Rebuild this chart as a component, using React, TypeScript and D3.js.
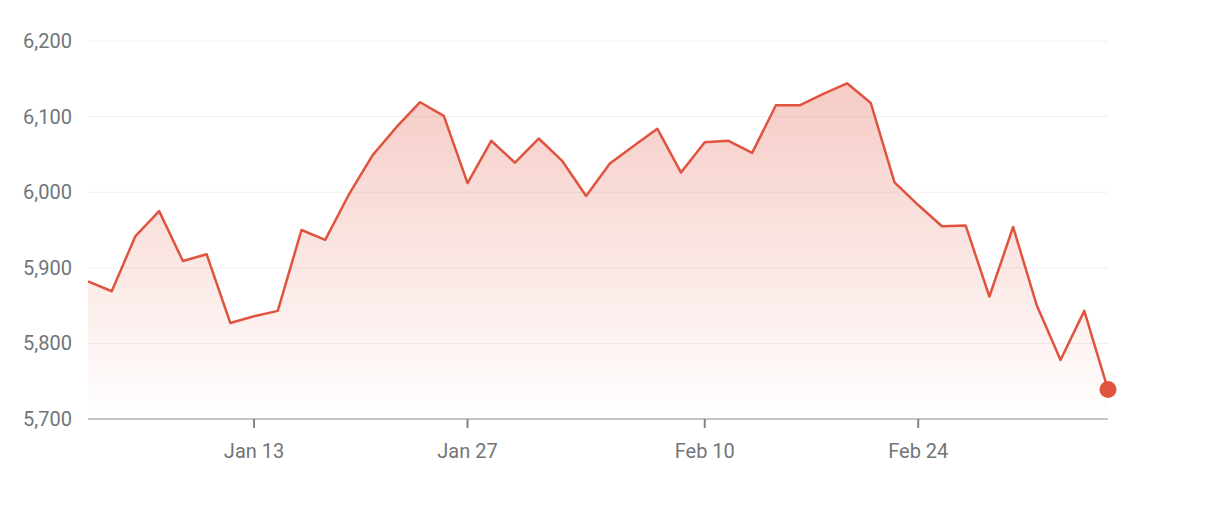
import React, { useEffect, useRef } from 'react';
import * as d3 from 'd3';

const dates = [
  'Dec 31', 'Jan 2', 'Jan 3', 'Jan 6', 'Jan 7', 'Jan 8', 'Jan 10', 'Jan 13', 'Jan 14', 'Jan 15',
  'Jan 16', 'Jan 17', 'Jan 21', 'Jan 22', 'Jan 23', 'Jan 24', 'Jan 27', 'Jan 28', 'Jan 29', 'Jan 30',
  'Jan 31', 'Feb 3', 'Feb 4', 'Feb 5', 'Feb 6', 'Feb 7', 'Feb 10', 'Feb 11', 'Feb 12', 'Feb 13',
  'Feb 14', 'Feb 18', 'Feb 19', 'Feb 20', 'Feb 21', 'Feb 24', 'Feb 25', 'Feb 26', 'Feb 27', 'Feb 28',
  'Mar 3', 'Mar 4', 'Mar 5', 'Mar 6',
];

const closes = [
  5882, 5869, 5942, 5975, 5909, 5918, 5827, 5836, 5843, 5950,
  5937, 5997, 6049, 6086, 6119, 6101, 6012, 6068, 6039, 6071,
  6041, 5995, 6038, 6061, 6084, 6026, 6066, 6068, 6052, 6115,
  6115, 6130, 6144, 6118, 6013, 5983, 5955, 5956, 5862, 5954,
  5850, 5778, 5843, 5739,
];

const yTicks = [5700, 5800, 5900, 6000, 6100, 6200];
const xTickLabels = ['Jan 13', 'Jan 27', 'Feb 10', 'Feb 24'];

const App: React.FC = () => {
  const svgRef = useRef<SVGSVGElement | null>(null);

  useEffect(() => {
    if (!svgRef.current) return;
    const W = 1218;
    const H = 512;
    const margin = { top: 41, right: 110, bottom: 93, left: 88 };
    const width = W - margin.left - margin.right;
    const height = H - margin.top - margin.bottom;

    d3.select(svgRef.current).selectAll('*').remove();
    const root = d3.select(svgRef.current).attr('width', W).attr('height', H);

    const svg = root.append('g').attr('transform', `translate(${margin.left},${margin.top})`);

    const x = d3.scalePoint<string>().domain(dates).range([0, width]);
    const y = d3.scaleLinear().domain([5700, 6200]).range([height, 0]);

    // gradient from the highest close down to the baseline
    const grad = root.append('defs').append('linearGradient')
      .attr('id', 'areaFill')
      .attr('gradientUnits', 'userSpaceOnUse')
      .attr('x1', 0).attr('x2', 0)
      .attr('y1', y(d3.max(closes) as number)).attr('y2', height);
    grad.append('stop').attr('offset', '0%').attr('stop-color', '#e0533f').attr('stop-opacity', 0.3);
    grad.append('stop').attr('offset', '100%').attr('stop-color', '#e0533f').attr('stop-opacity', 0);

    // grid
    svg.append('g')
      .selectAll('line')
      .data(yTicks.slice(1))
      .enter()
      .append('line')
      .attr('x1', 0)
      .attr('x2', width)
      .attr('y1', d => y(d))
      .attr('y2', d => y(d))
      .attr('stroke', '#f0f0f0')
      .attr('stroke-width', 1);

    // y labels
    svg.append('g')
      .selectAll('text')
      .data(yTicks)
      .enter()
      .append('text')
      .attr('x', -16)
      .attr('y', d => y(d))
      .attr('dy', '0.35em')
      .attr('text-anchor', 'end')
      .attr('font-family', 'Roboto, sans-serif')
      .attr('font-size', 20)
      .attr('fill', '#70757a')
      .text(d => d3.format(',')(d));

    // area
    const area = d3.area<number>()
      .x((_, i) => x(dates[i]) as number)
      .y0(height)
      .y1(d => y(d));
    svg.append('path')
      .datum(closes)
      .attr('d', area)
      .attr('fill', 'url(#areaFill)');

    // x axis
    const axis = svg.append('g').attr('transform', `translate(0,${height})`);
    axis.append('line')
      .attr('x1', 0).attr('x2', width)
      .attr('stroke', '#b0b4b8').attr('stroke-width', 1.5);
    const ticks = axis.selectAll('g.tick')
      .data(xTickLabels)
      .enter()
      .append('g')
      .attr('transform', d => `translate(${x(d)},0)`);
    ticks.append('line').attr('y1', 0).attr('y2', 9).attr('stroke', '#80868b').attr('stroke-width', 2);
    ticks.append('text')
      .attr('y', 39)
      .attr('text-anchor', 'middle')
      .attr('font-family', 'Roboto, sans-serif')
      .attr('font-size', 20)
      .attr('fill', '#70757a')
      .text(d => d);

    // line
    const line = d3.line<number>()
      .x((_, i) => x(dates[i]) as number)
      .y(d => y(d));
    svg.append('path')
      .datum(closes)
      .attr('d', line)
      .attr('fill', 'none')
      .attr('stroke', '#e0533f')
      .attr('stroke-width', 2.5)
      .attr('stroke-linejoin', 'round');

    const last = closes.length - 1;
    svg.append('circle')
      .attr('cx', x(dates[last]) as number)
      .attr('cy', y(closes[last]))
      .attr('r', 8.5)
      .attr('fill', '#e0533f');
  }, []);

  return (
    <svg ref={svgRef} style={{ position: 'absolute', left: 0, top: 0, background: '#fff' }}></svg>
  );
};

export default App;
